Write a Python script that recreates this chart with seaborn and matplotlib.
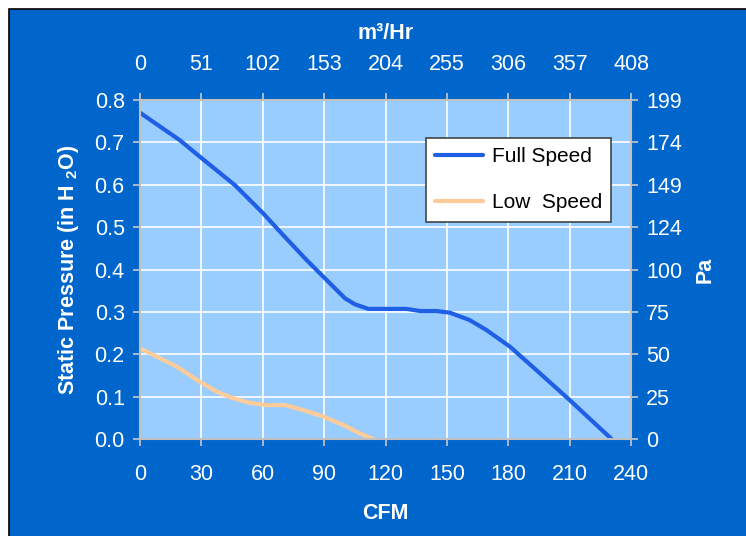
import numpy as np
import pandas as pd
import matplotlib
matplotlib.use("Agg")
import matplotlib.pyplot as plt
import seaborn as sns
from matplotlib.patches import Rectangle

# data
full_cfm = [0, 19.5, 29.3, 46.4, 60.3, 70, 81.5, 89.6, 100.2, 105, 111.6, 130.3, 137, 145, 151.5,
            161, 169.4, 180.8, 195.5, 210, 230.5]
full_p = [0.77, 0.705, 0.666, 0.599, 0.532, 0.481, 0.422, 0.383, 0.332, 0.318, 0.307, 0.307,
          0.302, 0.302, 0.298, 0.281, 0.257, 0.218, 0.155, 0.092, 0.0]
low_cfm = [0, 17.9, 29.3, 37.5, 45, 52.9, 61.9, 70.9, 80, 89.6, 99.4, 107.5, 114]
low_p = [0.214, 0.171, 0.135, 0.112, 0.097, 0.086, 0.080, 0.080, 0.068, 0.053, 0.033, 0.013, 0.0]

cfm_ticks = [0, 30, 60, 90, 120, 150, 180, 210, 240]
m3hr_ticks = [0, 51, 102, 153, 204, 255, 306, 357, 408]
inh2o_ticks = [0.0, 0.1, 0.2, 0.3, 0.4, 0.5, 0.6, 0.7, 0.8]
pa_labels = ["0", "25", "50", "75", "100", "124", "149", "174", "199"]

df = pd.concat([
    pd.DataFrame({"CFM": full_cfm, "P": full_p, "speed": "Full Speed"}),
    pd.DataFrame({"CFM": low_cfm, "P": low_p, "speed": "Low  Speed"}),
])

sns.set_theme(style="white")
plt.rcParams["font.family"] = ["Liberation Sans", "DejaVu Sans"]
plt.rcParams["mathtext.fontset"] = "custom"
plt.rcParams["mathtext.rm"] = "Liberation Sans"
plt.rcParams["mathtext.bf"] = "Liberation Sans:bold"

BG = "#0066CC"
PLOT_BG = "#99CCFF"
FS = 15.5

fig = plt.figure(figsize=(7.46, 5.36), dpi=100, facecolor="white")
# blue card with a black edge on the left and top only
fig.patches.append(Rectangle((9 / 746, -0.1), 2, 1.1 - 9 / 536, transform=fig.transFigure,
                             facecolor=BG, edgecolor="black", linewidth=1.2, zorder=-10))
ax = fig.add_axes([140 / 746, 1 - 439 / 536, 491 / 746, 339 / 536])
ax.set_facecolor(PLOT_BG)

sns.lineplot(data=df, x="CFM", y="P", hue="speed", palette=["#1F5FE6", "#FFCC99"],
             linewidth=3, sort=False, estimator=None, ax=ax)

ax.set_xlim(0, 240)
ax.set_ylim(0, 0.8)
ax.set_xticks(cfm_ticks)
ax.set_yticks(inh2o_ticks)
ax.set_yticklabels([f"{v:.1f}" for v in inh2o_ticks])
ax.grid(True, color="white", linewidth=1.2)
for s in ax.spines.values():
    s.set_color("#C0C0C0")
    s.set_linewidth(1.5)
ax.tick_params(colors="#C8C8C8", labelcolor="white", labelsize=FS, length=5, width=1.2,
               direction="out", left=True, bottom=True)
ax.tick_params(axis="x", pad=13)
ax.tick_params(axis="y", pad=6)
ax.set_xlabel("CFM", color="white", fontsize=FS, fontweight="bold", labelpad=13)
ax.set_ylabel(r"Static Pressure (in H $_\mathbf{2}$O)", color="white", fontsize=FS,
              fontweight="bold", labelpad=10)

top = ax.secondary_xaxis("top", functions=(lambda x: x * 1.7, lambda x: x / 1.7))
top.set_xticks(m3hr_ticks)
top.tick_params(colors="#C8C8C8", labelcolor="white", labelsize=FS, length=5, width=1.2, pad=13)
top.set_xlabel("m³/Hr", color="white", fontsize=FS, fontweight="bold", labelpad=11)

right = ax.secondary_yaxis("right")
right.set_yticks(inh2o_ticks)
right.set_yticklabels(pa_labels)
right.tick_params(colors="#C8C8C8", labelcolor="white", labelsize=FS, length=5, width=1.2, pad=6)
right.set_ylabel("Pa", color="white", fontsize=FS, fontweight="bold", labelpad=9)

leg = ax.legend(loc="upper left", bbox_to_anchor=(0.5825, 0.888), borderaxespad=0,
                frameon=True, fancybox=False, fontsize=15, handlelength=2.3,
                labelspacing=1.3, borderpad=0.45, handletextpad=0.4,
                facecolor="white", edgecolor="#444444", framealpha=1)
leg.get_frame().set_linewidth(1.2)
for t in leg.get_texts():
    t.set_color("black")

fig.savefig("out.png", dpi=100)
